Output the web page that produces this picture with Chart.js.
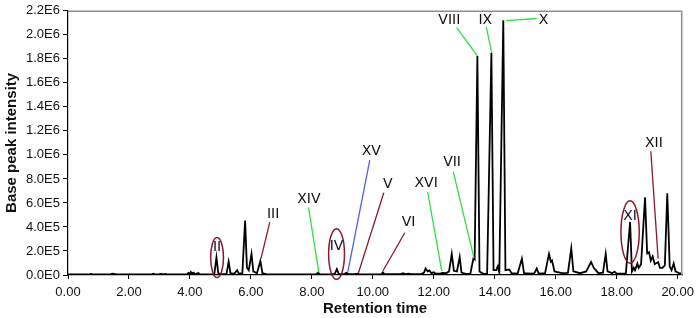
<!DOCTYPE html>
<html>
<head>
<meta charset="utf-8">
<script src="https://cdn.jsdelivr.net/npm/chart.js@4.4.0/dist/chart.umd.min.js"></script>
<style>
  html, body { margin: 0; padding: 0; background: #fff; }
  #wrap { width: 700px; height: 318px; }
</style>
</head>
<body>
<div id="wrap"><canvas id="chromChart"></canvas></div>
<script>
// chromatogram trace (minutes, counts)
var times = [
  0.00, 0.70, 0.75, 0.80, 1.00, 1.40, 1.45, 1.55, 1.60, 2.00, 2.75, 2.80, 2.85, 3.00, 3.05, 3.10, 3.20, 3.25, 3.50,
  3.90, 3.95, 4.00, 4.03, 4.07, 4.12, 4.17, 4.28, 4.32, 4.70, 4.80, 4.87, 4.93, 5.00, 5.20, 5.27, 5.33, 5.45, 5.55,
  5.60, 5.72, 5.81, 5.87, 5.93, 6.02, 6.08, 6.20, 6.31, 6.38, 6.50, 6.80, 7.00, 7.50, 8.00, 8.15, 8.20, 8.26, 8.40,
  8.60, 8.75, 8.82, 8.88, 9.05, 9.14, 9.20, 9.40, 9.50, 9.55, 10.00, 10.28, 10.33, 10.38, 10.90, 11.00, 11.05, 11.18,
  11.23, 11.60, 11.68, 11.73, 11.80, 11.86, 11.92, 12.00, 12.05, 12.20, 12.29, 12.40, 12.50, 12.59, 12.66, 12.76,
  12.85, 12.91, 13.05, 13.20, 13.30, 13.34, 13.43, 13.50, 13.62, 13.75, 13.89, 13.96, 14.05, 14.10, 14.15, 14.28,
  14.35, 14.48, 14.55, 14.75, 14.89, 14.96, 15.20, 15.30, 15.38, 15.44, 15.65, 15.78, 15.84, 15.88, 15.96, 16.20,
  16.40, 16.51, 16.58, 16.80, 17.00, 17.16, 17.25, 17.40, 17.55, 17.64, 17.70, 17.85, 17.93, 18.00, 18.30, 18.44,
  18.50, 18.56, 18.60, 18.68, 18.72, 18.80, 18.93, 19.00, 19.06, 19.12, 19.18, 19.25, 19.36, 19.42, 19.50, 19.58,
  19.66, 19.74, 19.80, 19.87, 19.93, 20.05, 20.15
];
var intensity = [
  5000, 6000, 9000, 5000, 6000, 6000, 12000, 8000, 5000, 5000, 6000, 11000, 6000, 7000, 11000, 6000, 9000, 6000, 5000,
  6000, 18000, 10000, 25000, 12000, 20000, 8000, 16000, 6000, 5000, 8000, 146000, 15000, 8000, 10000, 111000, 15000, 10000, 40000,
  12000, 15000, 453000, 60000, 40000, 176000, 30000, 15000, 116000, 15000, 8000, 6000, 5000, 6000, 6000, 8000, 20000, 8000, 6000,
  6000, 10000, 49000, 10000, 8000, 18000, 8000, 8000, 12000, 7000, 6000, 8000, 22000, 8000, 7000, 14000, 7000, 12000,
  7000, 8000, 20000, 55000, 30000, 38000, 15000, 22000, 12000, 12000, 18000, 15000, 30000, 176000, 35000, 30000,
  149000, 20000, 10000, 12000, 138000, 130000, 1824000, 30000, 10000, 12000, 1851000, 40000, 40000, 73000, 20000, 2122000,
  40000, 45000, 15000, 12000, 136000, 15000, 12000, 15000, 54000, 12000, 15000, 176000, 110000, 120000, 30000, 15000,
  18000, 222000, 30000, 15000, 30000, 108000, 60000, 15000, 20000, 175000, 30000, 15000, 28000, 12000, 12000, 442000,
  30000, 60000, 40000, 95000, 60000, 90000, 648000, 180000, 190000, 120000, 154000, 90000, 108000, 60000, 60000, 80000,
  680000, 70000, 40000, 96000, 30000, 15000, 12000
];

// peak labels: text position in data units, leader line start/end, colour
var tagNames  = ["III", "XIV", "XV", "V", "VI", "XVI", "VII", "VIII", "IX", "X", "XII"];
var tagT      = [6.73, 7.90, 9.95, 10.49, 11.17, 11.75, 12.60, 12.51, 13.69, 15.60, 19.22];
var tagI      = [506000, 632000, 1030000, 754000, 439000, 759000, 941000, 2122000, 2122000, 2122000, 1098000];
var lineFromT = [6.62, 7.89, 9.90, 10.36, 11.05, 11.80, 12.64, 12.75, 13.72, 15.38, 19.12];
var lineFromI = [441000, 563000, 957000, 685000, 352000, 691000, 859000, 2059000, 2067000, 2136000, 1030000];
var lineToT   = [6.33, 8.23, 9.18, 9.53, 10.33, 12.26, 13.32, 13.43, 13.90, 14.37, 19.36];
var lineToI   = [136000, 19000, 27000, 19000, 33000, 35000, 140000, 1824000, 1851000, 2119000, 136000];
var tagColors = ["#8b1a2e", "#33dd44", "#4a62e8", "#8b1a2e", "#8b1a2e", "#33dd44", "#33dd44", "#33dd44", "#33dd44", "#33dd44", "#8b1a2e"];

// circled peaks
var ringNames = ["II", "IV", "XI"];
var ringT     = [4.89, 8.81, 18.44];
var ringI     = [146000, 175000, 358000];
var ringHalfT = [0.21, 0.26, 0.30];
var ringHalfI = [167000, 211000, 260000];
var ringTextI = [228000, 241000, 488000];

var xTickStep = 2;
var yTickStep = 200000;

var points = times.map(function (t, i) { return { x: t, y: intensity[i] }; });

var annotate = {
  id: 'annotate',
  afterDatasetsDraw: function (chart) {
    var ctx = chart.ctx, xs = chart.scales.x, ys = chart.scales.y, a = chart.chartArea;
    ctx.save();
    // frame top + right
    ctx.strokeStyle = '#8c8c8c';
    ctx.lineWidth = 1.5;
    ctx.beginPath();
    ctx.moveTo(a.left, a.top + 0.5);
    ctx.lineTo(a.right - 0.5, a.top + 0.5);
    ctx.lineTo(a.right - 0.5, a.bottom);
    ctx.stroke();

    ctx.font = '14px "DejaVu Sans"';
    ctx.textAlign = 'center';
    ctx.textBaseline = 'middle';
    ctx.lineWidth = 1.3;
    for (var i = 0; i < tagNames.length; i++) {
      ctx.strokeStyle = tagColors[i];
      ctx.beginPath();
      ctx.moveTo(xs.getPixelForValue(lineFromT[i]), ys.getPixelForValue(lineFromI[i]));
      ctx.lineTo(xs.getPixelForValue(lineToT[i]), ys.getPixelForValue(lineToI[i]));
      ctx.stroke();
      ctx.fillStyle = '#111';
      ctx.fillText(tagNames[i], xs.getPixelForValue(tagT[i]), ys.getPixelForValue(tagI[i]));
    }
    ctx.lineWidth = 1.5;
    for (var j = 0; j < ringNames.length; j++) {
      var cx = xs.getPixelForValue(ringT[j]), cy = ys.getPixelForValue(ringI[j]);
      var rx = xs.getPixelForValue(ringT[j] + ringHalfT[j]) - cx;
      var ry = cy - ys.getPixelForValue(ringI[j] + ringHalfI[j]);
      ctx.strokeStyle = '#8b1a2e';
      ctx.beginPath();
      ctx.ellipse(cx, cy, rx, ry, 0, 0, Math.PI * 2);
      ctx.stroke();
      ctx.fillStyle = '#111';
      ctx.fillText(ringNames[j], cx, ys.getPixelForValue(ringTextI[j]));
    }
    ctx.restore();
  }
};

var ctxC = document.getElementById('chromChart').getContext('2d');
var chromChart = new Chart(ctxC, {
  type: 'line',
  data: {
    datasets: [{
      data: points,
      borderColor: '#000',
      borderWidth: 1.8,
      pointRadius: 0,
      tension: 0,
      fill: false
    }]
  },
  options: {
    responsive: true,
    maintainAspectRatio: false,
    animation: false,
    layout: { padding: { top: 3, right: 12, left: 0, bottom: 0 } },
    plugins: { legend: { display: false }, tooltip: { enabled: false } },
    scales: {
      x: {
        type: 'linear',
        min: 0,
        max: 20.15,
        afterFit: function (s) { s.height = 43; },
        border: { color: '#000', width: 1.2 },
        grid: { drawOnChartArea: false, drawTicks: true, tickLength: 4, color: '#000' },
        ticks: {
          stepSize: xTickStep,
          includeBounds: false,
          maxRotation: 0,
          padding: 6,
          color: '#111',
          font: { family: '"Liberation Sans", Arial', size: 13 },
          callback: function (v) { return v.toFixed(2); }
        },
        title: {
          display: true,
          text: 'Retention time',
          color: '#111',
          padding: { top: 0, bottom: 0 },
          font: { family: '"Liberation Sans", Arial', size: 15, weight: 'bold' }
        }
      },
      y: {
        min: 0,
        max: 2200000,
        afterFit: function (s) { s.width = 68; },
        border: { color: '#000', width: 1.2 },
        grid: { drawOnChartArea: false, drawTicks: true, tickLength: 5, color: '#000' },
        ticks: {
          stepSize: yTickStep,
          padding: 3,
          color: '#111',
          font: { family: '"Liberation Sans", Arial', size: 13 },
          callback: function (v) { return v.toExponential(1).toUpperCase().replace('+', ''); }
        },
        title: {
          display: true,
          text: 'Base peak intensity',
          color: '#111',
          padding: { top: 3, bottom: 0 },
          font: { family: '"Liberation Sans", Arial', size: 15, weight: 'bold' }
        }
      }
    }
  },
  plugins: [annotate]
});
</script>
</body>
</html>
